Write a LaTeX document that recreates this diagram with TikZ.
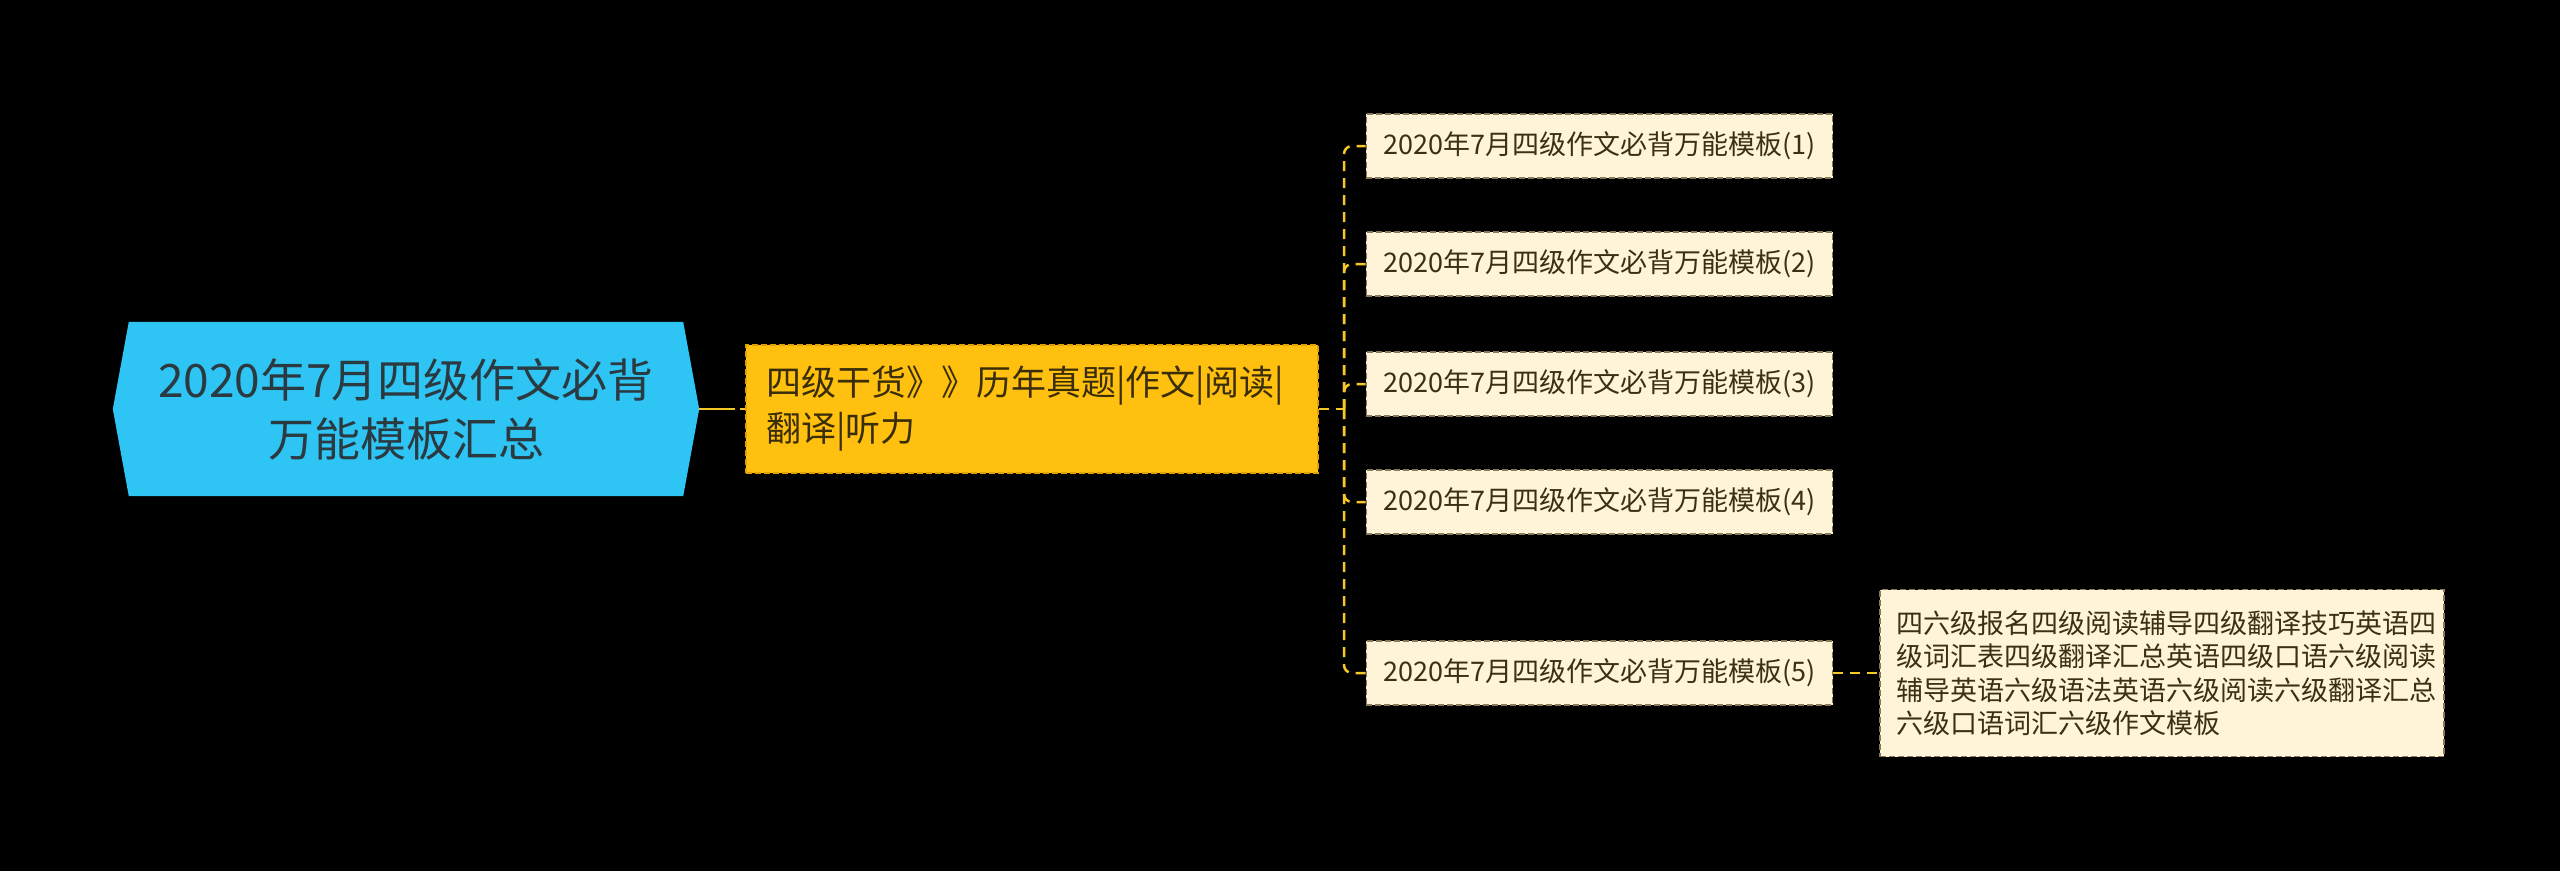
\documentclass[tikz,border=0pt]{standalone}
\usepackage{fontspec}
\setmainfont{Noto Sans CJK SC}
\usetikzlibrary{backgrounds}
\definecolor{rootfill}{HTML}{2EC4F4}
\definecolor{roottext}{HTML}{2B3A40}
\definecolor{yfill}{HTML}{FFC00F}
\definecolor{yborder}{HTML}{E0A000}
\definecolor{ytext}{HTML}{3A2E0A}
\definecolor{leaffill}{HTML}{FFF4D8}
\definecolor{leafborder}{HTML}{8A7A5A}
\definecolor{leaftext}{HTML}{3D3012}
\definecolor{conncol}{HTML}{F5C828}
\tikzset{
  rootbox/.style={minimum width=586pt, minimum height=174pt, inner sep=0pt, align=center,
    text=roottext, font=\fontsize{46}{59}\selectfont},
  ybox/.style={fill=yfill, draw=yborder, line width=1.5pt, dash pattern=on 6pt off 3pt,
    minimum width=572pt, minimum height=128pt, inner xsep=20pt, inner ysep=0pt,
    text width=532pt, align=left, text=ytext, font=\fontsize{35}{46}\selectfont},
  leafbox/.style={fill=leaffill, draw=leafborder, line width=1.5pt, dash pattern=on 6pt off 3pt,
    minimum width=465pt, minimum height=64pt, inner xsep=17pt, inner ysep=0pt,
    text=leaftext, font=\fontsize{27}{33}\selectfont},
  detailbox/.style={fill=leaffill, draw=leafborder, line width=1.5pt, dash pattern=on 6pt off 3pt,
    minimum width=564pt, minimum height=167pt, inner xsep=16pt, inner ysep=0pt,
    text width=532pt, align=left, text=leaftext, font=\fontsize{27}{33.5}\selectfont},
  conn/.style={draw=conncol, line width=2.5pt, dash pattern=on 10pt off 7pt},
}
\begin{document}
\begin{tikzpicture}[x=1pt,y=-1pt]
\useasboundingbox (0,0) rectangle (2560,871);
\node[rootbox] (root) at (406,409) {2020年7月四级作文必背\\万能模板汇总};
\begin{pgfonlayer}{background}
\fill[black] (0,0) rectangle (2560,871);
\fill[rootfill] (root.west) -- ([xshift=16pt]root.north west) -- ([xshift=-16pt]root.north east)
  -- (root.east) -- ([xshift=-16pt]root.south east) -- ([xshift=16pt]root.south west) -- cycle;
\end{pgfonlayer}
\node[ybox] (yellow) at (1032,409) {四级干货》》历年真题|作文|阅读|\\翻译|听力};
\node[leafbox] (leaf1) at (1599.5,146) {2020年7月四级作文必背万能模板(1)};
\node[leafbox] (leaf2) at (1599.5,264) {2020年7月四级作文必背万能模板(2)};
\node[leafbox] (leaf3) at (1599.5,384) {2020年7月四级作文必背万能模板(3)};
\node[leafbox] (leaf4) at (1599.5,502) {2020年7月四级作文必背万能模板(4)};
\node[leafbox] (leaf5) at (1599.5,673) {2020年7月四级作文必背万能模板(5)};
\node[detailbox] (detail) at (2162,673) {四六级报名四级阅读辅导四级翻译技巧英语四\\级词汇表四级翻译汇总英语四级口语六级阅读\\辅导英语六级语法英语六级阅读六级翻译汇总\\六级口语词汇六级作文模板};
\coordinate (bus) at (1344,409);
\draw[conn, dash pattern=on 36pt off 5pt] (root.east) -- (yellow.west);
\draw[conn] (yellow.east) -- (bus);
\foreach \i in {1,...,5} {
  \draw[conn, rounded corners=8pt] (bus) |- (leaf\i.west);
}
\draw[conn] (leaf5.east) -- (detail.west);
\end{tikzpicture}
\end{document}
